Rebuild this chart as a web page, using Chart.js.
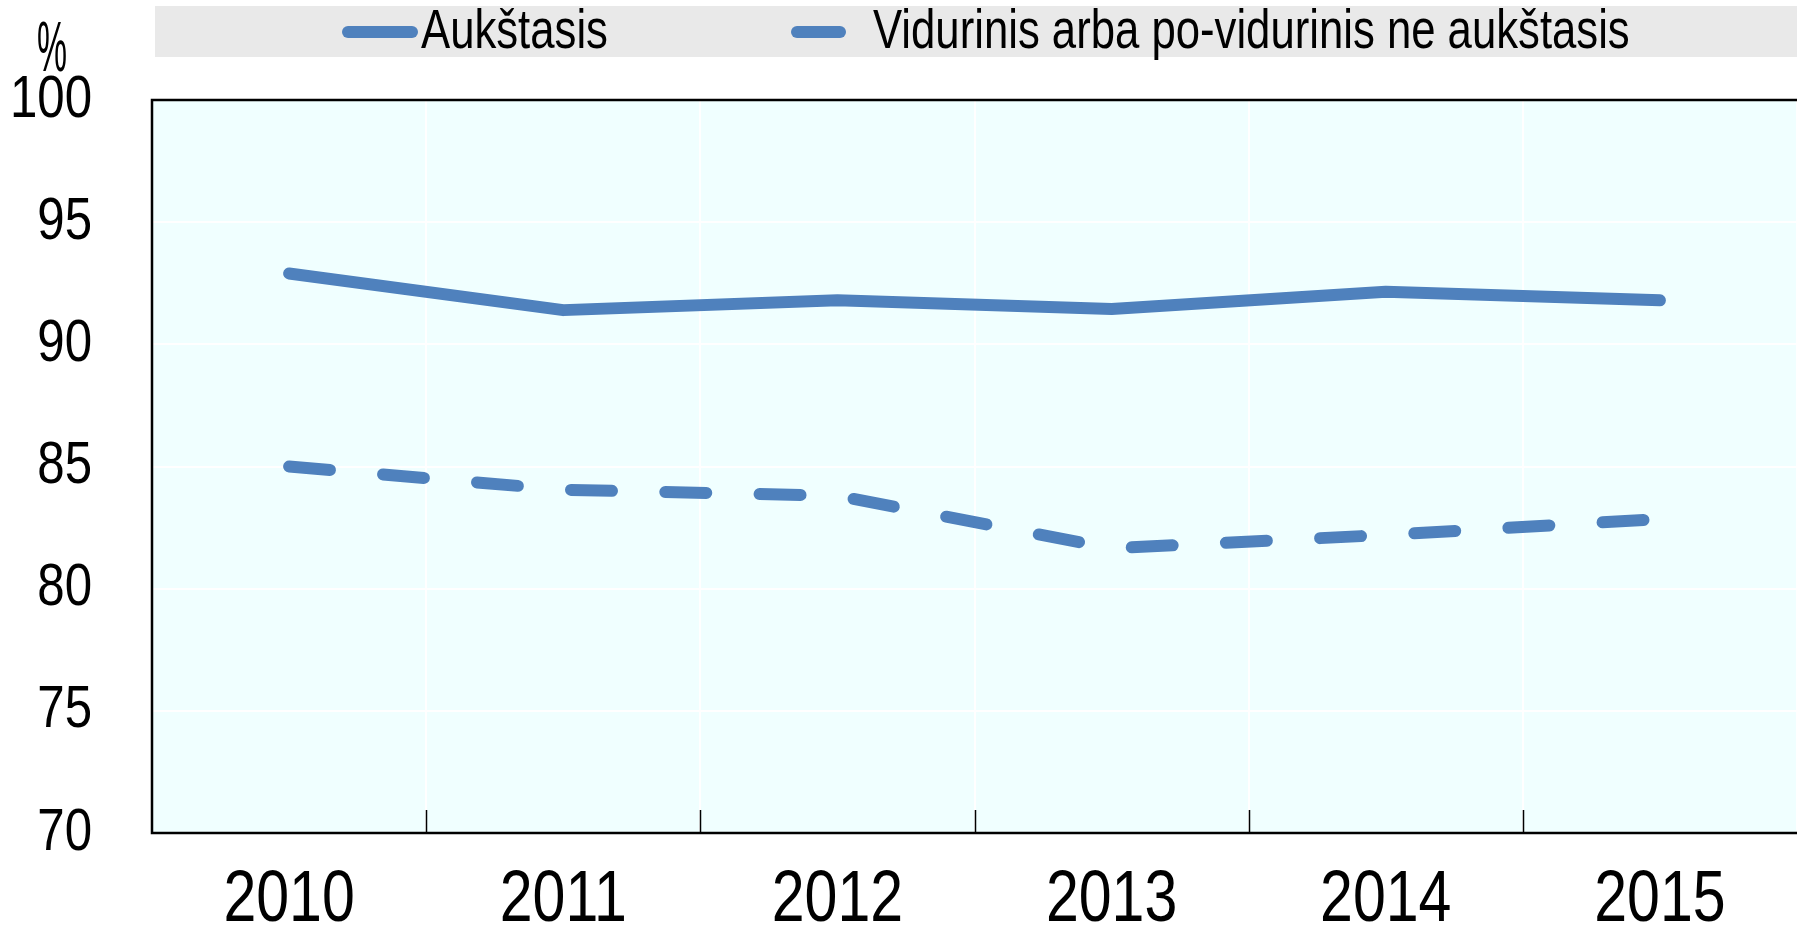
<!DOCTYPE html>
<html>
<head>
<meta charset="utf-8">
<script src="https://cdn.jsdelivr.net/npm/chart.js@4.4.1/dist/chart.umd.min.js"></script>
<style>
  html, body { margin: 0; padding: 0; background: #ffffff; }
  #wrap { width: 1797px; height: 931px; position: relative; }
</style>
</head>
<body>
<div id="wrap"><canvas id="chart" width="1797" height="931"></canvas></div>
<script>
const years = ["2010", "2011", "2012", "2013", "2014", "2015"];
const tertiary = [92.9, 91.4, 91.8, 91.45, 92.15, 91.8];
const secondary = [85.0, 84.05, 83.8, 81.65, 82.2, 82.85];
const seriesNames = ["Aukštasis", "Vidurinis arba po-vidurinis ne aukštasis"];
const yTicks = [70, 75, 80, 85, 90, 95, 100];

const FONT = "'Liberation Sans', Arial, sans-serif";
const BLUE = "#4F81BD";
const NARROW = 0.82; // no Arial Narrow here, so squeeze the text

const canvas = document.getElementById("chart");
const ctx0 = canvas.getContext("2d");
const origFill = ctx0.fillText.bind(ctx0);
ctx0.fillText = function (text, x, y, maxWidth) {
    const w = ctx0.measureText(text).width * NARROW;
    return origFill(text, x, y, maxWidth !== undefined ? Math.min(maxWidth, w) : w);
};

// gray legend strip, plot border, inner x ticks, "%" and legend
const decorPlugin = {
    id: "decor",
    beforeDraw(chart) {
        const ctx = chart.ctx;
        const area = chart.chartArea;
        ctx.save();
        ctx.fillStyle = "#E9E9E9";
        ctx.fillRect(155, 6, chart.width - 155, 51);
        ctx.fillStyle = "#F0FFFF";
        ctx.fillRect(area.left, area.top, area.right - area.left, area.bottom - area.top);
        ctx.restore();
    },
    afterDatasetsDraw(chart) {
        const ctx = chart.ctx;
        const area = chart.chartArea;
        const x = chart.scales.x;
        ctx.save();
        ctx.strokeStyle = "#000000";
        ctx.lineWidth = 1.5;
        for (let i = 1; i < years.length; i++) {
            const px = Math.round((x.getPixelForValue(i - 1) + x.getPixelForValue(i)) / 2) + 0.5;
            ctx.beginPath();
            ctx.moveTo(px, area.bottom);
            ctx.lineTo(px, area.bottom - 23);
            ctx.stroke();
        }
        ctx.lineWidth = 2.5;
        ctx.beginPath();
        ctx.moveTo(area.right + 5, area.top);
        ctx.lineTo(area.left, area.top);
        ctx.lineTo(area.left, area.bottom);
        ctx.lineTo(area.right + 5, area.bottom);
        ctx.stroke();

        ctx.fillStyle = "#000000";
        ctx.font = "70px " + FONT;
        ctx.textAlign = "center";
        ctx.textBaseline = "middle";
        ctx.fillText("%", 52, 52, 30);

        // legend
        ctx.font = "56px " + FONT;
        ctx.textAlign = "left";
        ctx.lineCap = "round";
        ctx.lineWidth = 12;
        ctx.strokeStyle = BLUE;
        ctx.setLineDash([]);
        ctx.beginPath();
        ctx.moveTo(348, 32);
        ctx.lineTo(412, 32);
        ctx.stroke();
        ctx.fillText(seriesNames[0], 421, 33, ctx.measureText(seriesNames[0]).width * 0.78);
        ctx.beginPath();
        ctx.moveTo(797, 32);
        ctx.lineTo(840, 32);
        ctx.stroke();
        ctx.fillText(seriesNames[1], 873, 33, ctx.measureText(seriesNames[1]).width * 0.78);
        ctx.restore();
    }
};

new Chart(ctx0, {
    type: "line",
    data: {
        labels: years,
        datasets: [
            {
                label: seriesNames[0],
                data: tertiary,
                borderColor: BLUE,
                borderWidth: 12,
                borderCapStyle: "round",
                borderJoinStyle: "round",
                pointRadius: 0,
                tension: 0,
                fill: false
            },
            {
                label: seriesNames[1],
                data: secondary,
                borderColor: BLUE,
                borderWidth: 12,
                borderDash: [41, 53.3],
                borderCapStyle: "round",
                borderJoinStyle: "round",
                pointRadius: 0,
                tension: 0,
                fill: false
            }
        ]
    },
    options: {
        responsive: false,
        animation: false,
        layout: { padding: { top: 100, right: 0, bottom: 0, left: 0 } },
        plugins: {
            legend: { display: false },
            tooltip: { enabled: false }
        },
        scales: {
            x: {
                offset: true,
                afterFit(axis) { axis.height = 98; },
                grid: { offset: true, color: "#FFFFFF", lineWidth: 2, drawTicks: false },
                border: { display: false },
                ticks: {
                    color: "#000000",
                    padding: 25,
                    font: { family: FONT, size: 72, lineHeight: 1.2 },
                    maxRotation: 0
                }
            },
            y: {
                min: 70,
                max: 100,
                afterBuildTicks(axis) { axis.ticks = yTicks.map(v => ({ value: v })); },
                afterFit(axis) { axis.width = 152; },
                grid: { color: "#FFFFFF", lineWidth: 2, drawTicks: false },
                border: { display: false },
                ticks: {
                    color: "#000000",
                    padding: 60,
                    font: { family: FONT, size: 60, lineHeight: 1.2 }
                }
            }
        }
    },
    plugins: [decorPlugin]
});
</script>
</body>
</html>
